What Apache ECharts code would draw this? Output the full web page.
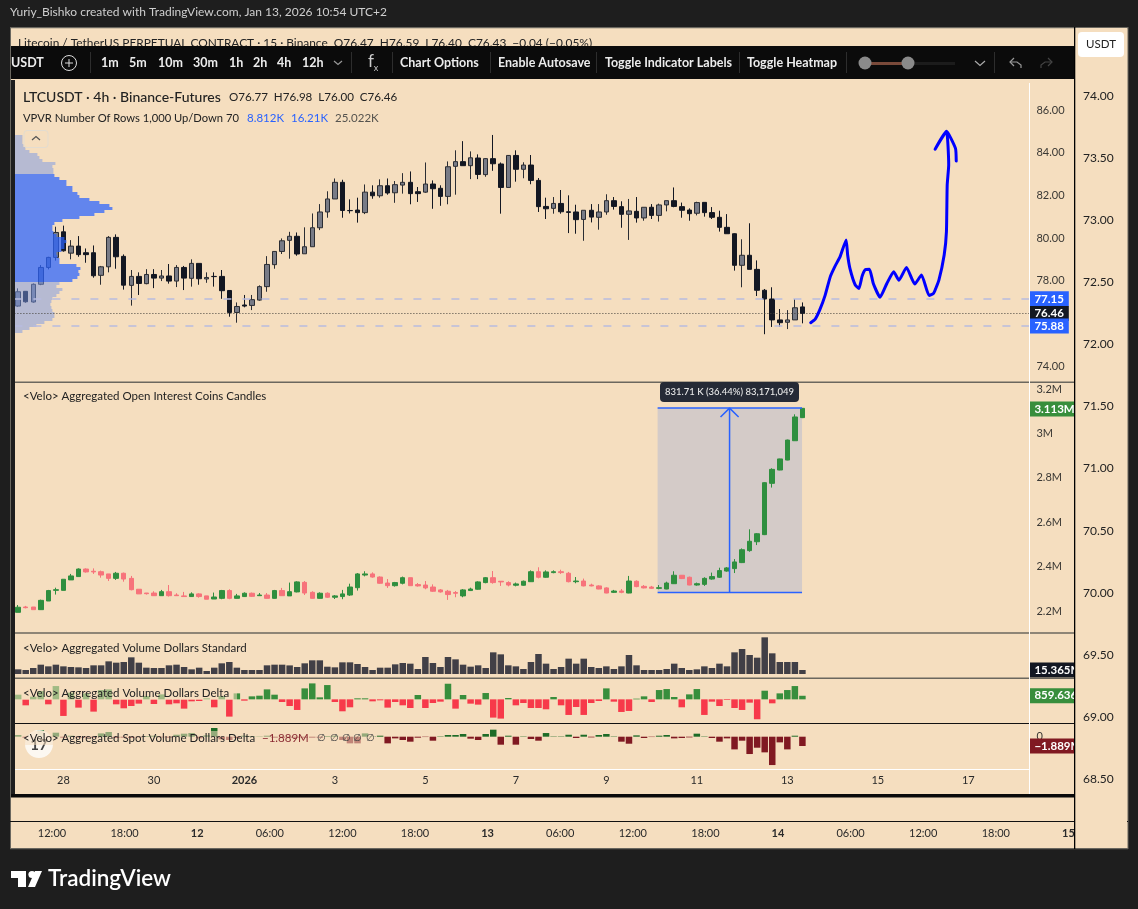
<!DOCTYPE html>
<html>
<head>
<meta charset="utf-8">
<title>LTCUSDT</title>
<script src="https://cdn.jsdelivr.net/npm/echarts@6/dist/echarts.min.js"></script>
<style>
    html, body { margin: 0; padding: 0; background: #1e1e1e; }
    #chart { width: 1138px; height: 909px; }
</style>
</head>
<body>
<div id="chart"></div>
<script>
// [open, close, low, high], 4h bars
const priceCandles = [
    [76.81,77.48,76.78,77.64],[77.50,77.01,76.97,77.50],[77.00,77.83,76.97,77.87],[77.83,78.62,77.79,78.73],[78.62,79.09,78.53,79.12],
    [79.09,80.26,78.94,80.53],[80.29,79.40,79.36,80.58],[79.29,79.62,79.00,79.90],[79.62,79.22,79.12,80.09],[79.31,79.22,78.84,79.51],
    [79.31,78.23,78.14,79.65],[78.25,78.65,77.81,78.69],[78.65,80.03,78.39,80.09],[80.03,79.12,78.56,80.17],[79.14,77.79,77.58,79.23],
    [77.78,78.20,76.83,78.50],[78.20,77.87,77.33,78.39],[77.86,78.29,77.83,78.54],[78.29,78.12,77.65,78.54],[78.12,78.22,77.98,78.50],
    [78.22,77.98,77.86,78.78],[77.98,78.62,77.70,78.73],[78.62,78.12,77.56,78.69],[78.11,78.81,77.72,79.00],[78.81,78.09,77.81,78.81],
    [78.08,78.15,77.90,78.39],[78.20,78.19,77.72,78.39],[78.20,77.53,77.15,78.50],[77.54,76.51,76.31,77.54],[76.51,76.79,76.03,76.98],
    [76.86,76.81,76.75,77.33],[76.84,77.11,76.62,77.33],[77.09,77.72,77.06,77.78],[77.72,78.76,77.48,79.15],[78.75,79.37,78.56,79.37],
    [79.37,79.87,79.25,79.98],[79.89,80.08,79.03,80.29],[80.08,79.25,79.17,80.26],[79.26,79.59,79.26,80.50],[79.59,80.48,79.59,81.15],
    [80.48,81.22,80.37,81.59],[81.22,81.83,80.95,82.19],[81.83,82.61,81.83,82.79],[82.61,81.29,80.95,82.73],[81.29,81.28,81.15,81.81],
    [81.31,81.19,80.72,81.89],[81.19,82.15,81.12,82.51],[82.15,81.98,81.84,82.47],[81.98,82.45,81.89,82.75],[82.45,82.11,82.03,82.79],
    [82.12,82.50,81.65,82.67],[82.48,82.61,82.08,83.04],[82.61,82.08,81.58,83.12],[82.17,82.08,81.69,82.39],[82.15,82.53,82.12,83.54],
    [82.53,82.31,81.37,82.70],[82.33,81.95,81.51,82.47],[81.95,83.34,81.58,83.59],[83.36,83.58,82.03,84.11],[83.58,83.39,83.39,84.54],
    [83.39,83.76,82.76,84.06],[83.75,82.98,82.76,83.92],[82.97,83.72,82.87,83.75],[83.72,83.48,83.15,84.83],[83.47,82.37,81.14,83.54],
    [82.37,83.87,82.37,83.89],[83.87,83.22,82.64,84.11],[83.22,83.42,82.80,83.55],[83.42,82.70,82.52,83.89],[82.70,81.47,81.22,82.81],
    [81.48,81.37,80.89,81.89],[81.39,81.62,81.14,81.92],[81.62,81.23,81.14,82.25],[81.23,81.20,80.23,82.00],[81.22,80.86,80.20,81.56],
    [80.87,81.30,79.87,81.30],[81.30,80.98,80.73,81.59],[80.97,81.22,80.39,81.59],[81.22,81.75,81.09,82.05],[81.75,81.48,81.33,81.92],
    [81.47,81.11,80.48,81.72],[81.11,81.27,79.91,81.83],[81.25,80.94,80.72,81.92],[80.94,81.44,80.81,81.44],[81.44,81.06,80.89,81.59],
    [81.06,81.55,80.77,81.61],[81.55,81.75,81.25,81.75],[81.75,81.48,81.44,82.37],[81.47,81.30,80.95,81.66],[81.31,81.14,80.81,81.39],
    [81.16,81.66,81.06,81.70],[81.67,81.19,81.00,81.67],[81.19,80.97,80.89,81.45],[80.97,80.50,80.30,81.28],[80.50,80.20,80.20,81.12],
    [80.20,78.72,78.47,80.22],[78.72,79.19,77.69,79.94],[79.19,78.53,78.53,80.69],[78.53,77.55,77.28,78.95],[77.55,77.14,75.49,77.61],
    [77.14,76.16,75.83,77.69],[76.16,76.03,75.84,76.67],[76.05,76.16,75.73,76.62],[76.16,76.73,76.16,77.14],[76.77,76.46,76.00,76.98]
];
// aggregated open interest in millions, [open, close, low, high]
const oiCandles = [
    [2.194,2.217,2.194,2.227],[2.218,2.215,2.212,2.223],[2.218,2.206,2.206,2.218],[2.206,2.248,2.205,2.251],[2.245,2.292,2.245,2.295],
    [2.293,2.296,2.274,2.305],[2.293,2.343,2.293,2.343],[2.340,2.358,2.340,2.367],[2.355,2.389,2.355,2.392],[2.389,2.376,2.373,2.392],
    [2.379,2.376,2.367,2.392],[2.377,2.362,2.350,2.382],[2.367,2.347,2.335,2.367],[2.347,2.370,2.340,2.376],[2.370,2.344,2.332,2.373],
    [2.347,2.296,2.293,2.358],[2.298,2.277,2.277,2.298],[2.281,2.278,2.274,2.281],[2.281,2.269,2.268,2.289],[2.269,2.287,2.269,2.295],
    [2.287,2.269,2.265,2.317],[2.272,2.269,2.268,2.280],[2.268,2.265,2.265,2.286],[2.265,2.277,2.263,2.284],[2.277,2.265,2.260,2.280],
    [2.268,2.253,2.253,2.268],[2.254,2.263,2.254,2.283],[2.257,2.292,2.253,2.295],[2.292,2.257,2.253,2.298],[2.257,2.268,2.256,2.277],
    [2.265,2.280,2.263,2.284],[2.280,2.266,2.263,2.283],[2.269,2.272,2.268,2.281],[2.272,2.257,2.256,2.281],[2.257,2.292,2.256,2.295],
    [2.292,2.269,2.268,2.304],[2.268,2.287,2.268,2.328],[2.286,2.331,2.284,2.334],[2.329,2.281,2.272,2.335],[2.284,2.257,2.256,2.289],
    [2.257,2.280,2.256,2.284],[2.280,2.262,2.259,2.284],[2.262,2.268,2.254,2.272],[2.265,2.277,2.253,2.295],[2.272,2.308,2.268,2.323],
    [2.305,2.367,2.292,2.371],[2.362,2.367,2.356,2.379],[2.367,2.353,2.350,2.374],[2.353,2.325,2.323,2.356],[2.326,2.314,2.304,2.344],
    [2.314,2.328,2.310,2.331],[2.325,2.350,2.320,2.355],[2.350,2.314,2.314,2.350],[2.319,2.313,2.310,2.326],[2.317,2.304,2.298,2.335],
    [2.308,2.289,2.286,2.320],[2.295,2.286,2.283,2.299],[2.289,2.274,2.250,2.295],[2.283,2.280,2.262,2.290],[2.268,2.295,2.262,2.299],
    [2.292,2.299,2.290,2.305],[2.298,2.331,2.296,2.334],[2.328,2.350,2.325,2.353],[2.350,2.328,2.323,2.380],[2.334,2.331,2.313,2.335],
    [2.328,2.317,2.311,2.334],[2.316,2.322,2.311,2.328],[2.316,2.334,2.314,2.337],[2.332,2.377,2.331,2.383],[2.377,2.352,2.347,2.397],
    [2.352,2.376,2.350,2.383],[2.373,2.377,2.370,2.383],[2.377,2.373,2.367,2.386],[2.370,2.332,2.329,2.376],[2.332,2.335,2.325,2.353],
    [2.335,2.313,2.311,2.346],[2.317,2.313,2.311,2.323],[2.313,2.299,2.298,2.316],[2.304,2.281,2.280,2.307],[2.284,2.290,2.281,2.295],
    [2.290,2.284,2.280,2.299],[2.281,2.335,2.280,2.358],[2.334,2.310,2.307,2.338],[2.311,2.304,2.302,2.317],[2.308,2.302,2.299,2.313],
    [2.302,2.305,2.298,2.317],[2.299,2.326,2.298,2.332],[2.323,2.361,2.322,2.379],[2.361,2.346,2.344,2.362],[2.352,2.317,2.316,2.355],
    [2.317,2.323,2.314,2.328],[2.320,2.347,2.313,2.352],[2.344,2.355,2.341,2.373],[2.352,2.382,2.349,2.395],[2.380,2.394,2.377,2.398],
    [2.391,2.421,2.371,2.434],[2.418,2.476,2.416,2.482],[2.472,2.514,2.467,2.568],[2.512,2.548,2.497,2.551],[2.544,2.778,2.542,2.780],
    [2.775,2.838,2.756,2.843],[2.835,2.885,2.834,2.886],[2.880,2.970,2.879,2.972],[2.967,3.074,2.966,3.086],[3.071,3.113,3.069,3.114]
];
const volumes = [
    17.9,15.4,23,35.8,29.4,35.8,29.4,26.9,25.6,23,
    33.3,33.3,48.6,43.5,46,64,43.5,24.3,23,23,
    33.3,35.8,26.9,17.9,24.3,11.5,24.3,41,46,24.3,
    15.4,15.4,15.4,33.3,35.8,35.8,33,26.9,41,52.5,
    52.5,28,25.6,44.8,44.8,38.4,26.9,15.4,24.3,24.3,
    37.1,42.2,39.7,19.2,65.3,42.2,26.9,65.3,56.3,35.8,
    28.2,33.3,23,83.2,75.5,33.3,29.4,19.2,46,76.8,
    39.7,19.2,26.9,58.9,39.7,58.9,26.9,23,29.4,19.2,
    29.4,73,33.3,15.4,15.4,15.4,19.2,39.7,23,15.4,
    17.9,29.4,23,39.7,29.4,83.2,96,73,62.7,140.8,
    79.4,46,46,46,15.365
];
const volumeDeltas = [
    1.12,-1.44,0.64,2,-1.2,3.2,-4,1.6,-2,1.44,
    -2.96,2.24,2.4,-1.2,-2.16,-1.6,-1.04,0.8,-1.12,1.2,
    -1.2,-0.96,-2.24,-0.48,-0.4,0.24,-1.92,0.8,-4.16,1.44,
    -0.32,0.72,0.88,2.4,1.12,-0.64,-1.6,-2.56,2.64,3.84,
    0.48,3.44,-0.64,-2.88,-1.92,0.24,0.24,-0.48,-0.24,-2,
    -0.64,-1.44,-2.08,1.04,-2.08,-0.88,-0.56,3.76,-2.24,1.04,
    -1.04,-1.28,1.52,-4.4,-4.64,0.32,-1.44,-0.88,-2.08,-2.08,
    -2.4,0.56,-1.44,-3.76,-1.84,-3.76,-0.88,-0.4,2.64,-0.56,
    -3.04,-2.8,0.16,0.72,-0.64,2.24,2.48,0.56,-1.92,1.2,
    2.48,-3.76,-0.56,-1.6,-0.16,-2.08,-2.56,-0.8,-4.8,2.08,
    -0.96,1.44,2.24,3.2,0.86
];
const spotDeltas = [
    0.34,-0.2,-0.4,1.35,-0.27,0.81,-0.2,0.2,-0.2,-0.2,
    -0.2,0.67,0.95,-0.27,-0.2,-0.27,-0.14,0.14,0.2,-0.14,
    -0.2,0.4,0.61,0.74,-0.34,0.27,1.76,-0.54,-0.67,-0.27,
    0.2,0.14,0.07,0.2,-0.2,-0.2,-0.2,-0.2,-0.2,-0.2,
    -0.2,0.14,0.2,-0.67,-1.35,-1.35,0.67,0.07,0.2,-1.35,
    -0.34,-0.67,-1.01,-0.2,-0.07,-0.81,0.07,0.34,0.34,0.54,
    -0.4,-0.67,0.54,1.42,-1.62,0.2,-1.62,0.07,-0.47,-0.81,
    0.74,0.07,0.07,0.4,-0.27,0.4,-0.14,0.34,0.54,0.07,
    -1.01,-1.42,0.27,-0.27,-0.07,0.2,0.34,-0.34,-0.27,-0.14,
    0.61,0.07,-0.27,-1.01,-0.34,-2.57,-0.81,-3.51,-2.23,-3.17,
    -5.74,-1.15,-2.57,0.2,-1.889
];
// volume profile rows, top of the range first
const profileVol = [
    8,8,8,9,11,15,23,25,28,41,38,39,39,
    40,45,52,52,58,58,63,65,75,85,95,98,90,80,65,48,40,38,38,39,42,50,52,50,50,47,42,43,45,45,62,66,64,65,63,58,
    45,42,48,45,42,38,37,36,37,38,40,40,38,30,22,15,8
];
// the hand drawn forecast, [bar position, price]
const forecastPath = [
    [105.6,76.03],[106.2,76.2],[106.8,76.63],[107.5,77.3],[108.2,78.19],[108.8,78.66],[109.5,79.13],[110.3,79.91],
    [110.5,79.2],[110.8,78.58],[111.5,77.8],[112,77.63],[112.4,78.19],[112.8,78.5],[113.4,78.53],[113.9,77.87],
    [114.8,77.22],[115.7,77.87],[116.6,78.42],[117.3,78.02],[118.3,78.62],[119.4,77.84],[120.3,78.27],[121.3,77.3],
    [121.9,77.41],[122.6,78.03],[123.3,79.2],[123.6,80.3],[123.7,82.48],[123.9,83.42],[123.6,85],[122.1,84.16],
    [123.6,85],[124.8,84.2],[124.9,83.61]
];
const measureBottom = [[85.3,2.283],[104.45,2.283]];
const measureTop = [[85.3,3.114],[104.45,3.114]];
const measureShaft = [[94.84,2.283],[94.84,3.114]];
const measureHead = [[93.64,3.074],[94.84,3.114],[96.04,3.074]];
const levelHigh = 77.15, levelLast = 76.46, levelLow = 75.88;

const dateTicks = {6:'28',18:'30',30:'2026',42:'3',54:'5',66:'7',78:'9',90:'11',102:'13',114:'15',126:'17'};
const outerTimeLabels = ['12:00','18:00','12','06:00','12:00','18:00','13','06:00','12:00','18:00','14','06:00','12:00','18:00','15'];
const toolbarItems = [
    ['USDT',11],['1m',101],['5m',129],['10m',158],['30m',193],['1h',229],['2h',253],['4h',277],['12h',302],
    ['Chart Options',400],['Enable Autosave',498],['Toggle Indicator Labels',605],['Toggle Heatmap',747]
];
const toolbarSeps = [90,351,392,490,596,739,846,994];

const BAR_COUNT = 135;
const barLabels = [];
for (let i = 0; i < BAR_COUNT; i++) barLabels.push(dateTicks[i] || '');

const CREAM = '#f5debf', DARK = '#1e1e1e', FONT = 'Lato, "Noto Sans", sans-serif';
const G_LEFT = 14.4, G_WIDTH = 1018;

// graphic helpers, only for the page chrome
const els = [];
function rect(x, y, w, h, fill, z, r) {
    els.push({type:'rect', shape:{x:x, y:y, width:w, height:h, r:r||0}, style:{fill:fill}, z:z, silent:true});
}
function txt(x, y, text, size, fill, z, weight, align) {
    els.push({type:'text', style:{x:x, y:y, text:text, fill:fill, textAlign:align||'left', textVerticalAlign:'middle',
        font:(weight||'normal')+' '+size+'px '+FONT}, z:z, silent:true});
}
function stroke(points, color, z, width) {
    els.push({type:'polyline', shape:{points:points}, style:{fill:'none', stroke:color, lineWidth:width||1.2}, z:z, silent:true});
}
// backgrounds
rect(10, 27, 1118, 822, CREAM, -10);
rect(10, 27, 1118, 1.2, '#6a675f', 120);
rect(10, 848, 1118, 1.2, '#6a675f', 120);
rect(10, 27, 1, 822, '#6a675f', 120);
rect(1127.5, 27, 1, 822, '#6a675f', 120);
rect(10, 80, 5, 714, DARK, 90);
// clip anything running past the chart into the outer axis
rect(1075, 28, 52, 820, CREAM, 150);
rect(1074, 27, 1.3, 822, '#000', 151);
rect(10, 794, 1065, 3.5, '#0a0a0a', 90);
rect(10, 821, 1118, 1, '#111', 120);
// pane rules
rect(15, 381.5, 1060, 1.4, '#6b675e', 60);
rect(15, 632.3, 1060, 1.4, '#6b675e', 60);
rect(15, 677.6, 1060, 1.4, '#6b675e', 60);
rect(15, 723, 1060, 1, '#111', 60);
rect(15, 769, 1014, 1, '#fff', 60);
rect(1029, 83, 1, 711, '#fff', 60);
// title strip and toolbar
txt(18, 43, 'Litecoin / TetherUS PERPETUAL CONTRACT \u00b7 15 \u00b7 Binance  O76.47  H76.59  L76.40  C76.43  \u22120.04 (\u22120.05%)', 11.9, '#222', 80);
rect(10, 46, 1065, 33, '#0b0b0b', 100);
toolbarItems.forEach(function (t) { txt(t[1], 63, t[0], 12.5, '#ececec', 101, '700'); });
toolbarSeps.forEach(function (x) { rect(x, 52, 1, 21, '#2d2d2d', 101); });
els.push({type:'circle', shape:{cx:69, cy:63, r:7.5}, style:{fill:'none', stroke:'#ddd', lineWidth:1}, z:101, silent:true});
stroke([[65,63],[73,63]], '#ddd', 101, 1);
stroke([[69,59],[69,67]], '#ddd', 101, 1);
stroke([[334,61],[338,64.5],[342,61]], '#999', 101);
txt(371, 62, 'f', 17, '#ccc', 101, 'normal', 'center');
txt(376, 68, 'x', 9, '#ccc', 101, 'normal', 'center');
rect(865, 62, 90, 3, '#1c1c1c', 101);
rect(865, 62, 43, 3, '#7a4a3a', 101);
els.push({type:'circle', shape:{cx:865, cy:63, r:6.5}, style:{fill:'#8a8a8a'}, z:102, silent:true});
els.push({type:'circle', shape:{cx:908, cy:63, r:6.5}, style:{fill:'#8a8a8a'}, z:102, silent:true});
stroke([[975,61],[980,65.5],[985,61]], '#aaa', 101);
stroke([[1014,58],[1010,62],[1014,66]], '#999', 101);
stroke([[1010,62],[1017,62],[1021,65],[1021,68]], '#999', 101);
stroke([[1048,58],[1052,62],[1048,66]], '#444', 101);
stroke([[1052,62],[1045,62],[1041,65],[1041,68]], '#444', 101);
// outer axis button
rect(1078, 32, 46, 25, '#fff', 160, 4);
txt(1101, 44.5, 'USDT', 11.5, '#222', 161, 'normal', 'center');
// legends
txt(23, 97, 'LTCUSDT \u00b7 4h \u00b7 Binance-Futures', 14, '#222', 70, '500');
txt(229, 97, 'O76.77  H76.98  L76.00  C76.46', 11.6, '#222', 70);
txt(23, 118, 'VPVR Number Of Rows 1,000 Up/Down 70', 11.2, '#222', 70);
txt(247, 118, '8.812K', 11.5, '#2962ff', 70);
txt(291, 118, '16.21K', 11.5, '#2962ff', 70);
txt(335, 118, '25.022K', 11.5, '#55534e', 70);
els.push({type:'rect', shape:{x:24, y:130.5, width:24, height:17, r:3}, style:{fill:CREAM, stroke:'#e3dcd0', lineWidth:1}, z:70, silent:true});
stroke([[32,140],[36,136.5],[40,140]], '#555', 71);
txt(23, 396, '<Velo> Aggregated Open Interest Coins Candles', 11.5, '#222', 70);
txt(23, 648, '<Velo> Aggregated Volume Dollars Standard', 11.5, '#222', 70);
rect(15, 686, 222, 14, 'rgba(245,222,191,0.55)', 69);
txt(23, 693, '<Velo> Aggregated Volume Dollars Delta', 11.5, '#222', 70);
rect(15, 731, 360, 14, 'rgba(245,222,191,0.55)', 69);
// faded watermark badge behind the last legend
els.push({type:'circle', shape:{cx:39, cy:744, r:14}, style:{fill:'#fdfbf6', opacity:0.9}, z:68, silent:true});
txt(39, 745, '17', 15, '#444', 68, 'bold', 'center');
txt(23, 738, '<Velo> Aggregated Spot Volume Dollars Delta', 11.5, '#222', 70);
txt(262, 738, '\u22121.889M', 11.5, '#8a2a32', 70);
[317,330,342,353,366].forEach(function (x) { txt(x, 738, '\u2205', 10, '#444', 70); });
// measure tooltip
rect(660, 382, 139, 20, '#252a36', 70, 4);
txt(729.5, 392, '831.71 K (36.44%) 83,171,049', 9.5, '#e8e8e8', 71, '500', 'center');
// footer logo
rect(11, 871, 15, 7, '#fff', 5);
rect(18, 871, 8, 16, '#fff', 5);
els.push({type:'circle', shape:{cx:32, cy:874.5, r:3.6}, style:{fill:'#fff'}, z:5, silent:true});
els.push({type:'polygon', shape:{points:[[28,887],[35,871],[42,871],[35,887]]}, style:{fill:'#fff'}, z:5, silent:true});
txt(48, 879, 'TradingView', 22.5, '#fff', 5, '600');
txt(10, 12, 'Yuriy_Bishko created with TradingView.com, Jan 13, 2026 10:54 UTC+2', 12, '#cfcfcf', 5);

function tagLine(value, bg, text, line, width) {
    return {
        yAxis: value,
        lineStyle: line || {color:'rgba(0,0,0,0)'},
        label: {show:true, position:'end', distance:-3, formatter:text, backgroundColor:bg, color:'#fff', width:width,
            padding:[2,5], fontSize:11.5, fontFamily:FONT, fontWeight:700, lineHeight:11}
    };
}
function signedBars(values, up, down) {
    return values.map(function (v) { return {value:v, itemStyle:{color: v >= 0 ? up : down}}; });
}
function hiddenX(grid) {
    return {type:'category', gridIndex:grid, data:barLabels, show:false};
}
const valueLabel = {color:'#3a3834', fontSize:11, fontFamily:FONT, margin:5};

const grids = [
    {left:G_LEFT, width:G_WIDTH, top:110, height:256},  // price
    {left:G_LEFT, width:G_WIDTH, top:110, height:256},  // drawing on price
    {left:G_LEFT, width:G_WIDTH, top:135, height:198},  // profile
    {left:G_LEFT, width:G_WIDTH, top:389, height:222},  // open interest
    {left:G_LEFT, width:G_WIDTH, top:389, height:222},  // measure tool
    {left:G_LEFT, width:G_WIDTH, top:634, height:40},   // volume
    {left:G_LEFT, width:G_WIDTH, top:679, height:44},   // delta
    {left:G_LEFT, width:G_WIDTH, top:724, height:45},   // spot delta
    {left:10, width:1065, top:96, height:683},          // outer price axis
    {left:15.7, width:1089, top:700, height:121}        // outer time axis
];

const option = {
    backgroundColor: DARK,
    animation: false,
    graphic: {elements: els},
    grid: grids,
    xAxis: [
        hiddenX(0),
        {type:'value', gridIndex:1, min:0, max:BAR_COUNT, show:false},
        {type:'value', gridIndex:2, min:0, max:G_WIDTH, show:false},
        hiddenX(3),
        {type:'value', gridIndex:4, min:0, max:BAR_COUNT, show:false},
        hiddenX(5),
        hiddenX(6),
        {
            type:'category', gridIndex:7, data:barLabels, axisLine:{show:false}, axisTick:{show:false},
            axisLabel:{
                color:'#2a2a2a', fontSize:11, fontFamily:FONT, margin:6,
                interval:function (i, v) { return v !== ''; },
                formatter:function (v) { return v === '2026' ? '{b|2026}' : v; },
                rich:{b:{fontWeight:'bold', fontSize:11, color:'#2a2a2a', fontFamily:FONT}}
            }
        },
        {type:'category', gridIndex:8, data:['a'], show:false},
        {
            type:'category', gridIndex:9, data:outerTimeLabels, axisLine:{show:false}, axisTick:{show:false},
            axisLabel:{
                color:'#2a2a2a', fontSize:11, fontFamily:FONT, margin:7, interval:0,
                formatter:function (v) { return v.indexOf(':') < 0 ? '{b|' + v + '}' : v; },
                rich:{b:{fontWeight:'bold', fontSize:11, color:'#2a2a2a', fontFamily:FONT}}
            }
        }
    ],
    yAxis: [
        {type:'value', gridIndex:0, position:'right', min:74, max:86, interval:2, splitLine:{show:false}, axisLine:{show:false}, axisTick:{show:false},
            axisLabel:Object.assign({}, valueLabel, {margin:4, formatter:function (v) { return v.toFixed(2); }})},
        {type:'value', gridIndex:1, min:74, max:86, show:false},
        {type:'category', gridIndex:2, inverse:true, data:profileVol.map(function (v, i) { return i; }), show:false},
        {type:'value', gridIndex:3, position:'right', min:2.2, max:3.2, interval:0.2, splitLine:{show:false}, axisLine:{show:false}, axisTick:{show:false},
            axisLabel:Object.assign({}, valueLabel, {margin:4, formatter:function (v) { return +v.toFixed(1) + 'M'; }})},
        {type:'value', gridIndex:4, min:2.2, max:3.2, show:false},
        {type:'value', gridIndex:5, min:0, max:153.6, show:false},
        {type:'value', gridIndex:6, min:-5.7, max:4.9, show:false},
        {type:'value', gridIndex:7, position:'right', min:-6.54, max:2.57, splitLine:{show:false}, axisLine:{show:false}, axisTick:{show:false},
            axisLabel:Object.assign({}, valueLabel, {margin:4, customValues:[0]})},
        {type:'value', gridIndex:8, position:'right', min:68.5, max:74, interval:0.5, z:200, splitLine:{show:false}, axisLine:{show:false}, axisTick:{show:false},
            axisLabel:{color:'#222', fontSize:12, fontFamily:FONT, margin:8, formatter:function (v) { return v.toFixed(2); }}},
        {type:'value', gridIndex:9, show:false, min:0, max:1}
    ],
    series: [
        {
            type:'candlestick', xAxisIndex:0, yAxisIndex:0, data:priceCandles, barWidth:5,
            itemStyle:{color:'#787b86', color0:'#131722', borderColor:'#2b2d33', borderColor0:'#131722', borderWidth:1},
            markLine:{
                silent:true, symbol:'none',
                data:[
                    tagLine(levelHigh, '#2962ff', '77.15', {color:'#b8bcdf', type:[8,11], width:1.5}),
                    tagLine(levelLast, '#131722', '76.46', {color:'#45423c', type:[1,2], width:1}),
                    tagLine(levelLow, '#2962ff', '75.88', {color:'#b8bcdf', type:[8,11], width:1.5})
                ]
            }
        },
        {
            type:'bar', xAxisIndex:2, yAxisIndex:2, z:3, barCategoryGap:0, barWidth:'100%',
            data:profileVol.map(function (v, i) {
                const inArea = i >= 13 && i < 49;
                return {value:v, itemStyle:{color: inArea ? 'rgba(41,98,255,0.72)' : 'rgba(120,150,230,0.5)'}};
            })
        },
        {
            type:'line', xAxisIndex:1, yAxisIndex:1, z:5, data:forecastPath, symbol:'none', smooth:0.15,
            lineStyle:{color:'#0000ff', width:3, cap:'round', join:'round'}
        },
        {
            type:'candlestick', xAxisIndex:3, yAxisIndex:3, data:oiCandles, barWidth:5,
            itemStyle:{color:'#2f8f3f', color0:'#f7737b', borderColor:'#2f8f3f', borderColor0:'#f7737b', borderWidth:1},
            markLine:{silent:true, symbol:'none', data:[tagLine(3.113, '#388e3c', '3.113M', null, 46)]}
        },
        {
            type:'line', xAxisIndex:4, yAxisIndex:4, z:3, data:measureBottom, symbol:'none',
            lineStyle:{color:'#2962ff', width:1.5},
            markArea:{silent:true, itemStyle:{color:'rgba(135,159,221,0.3)'},
                data:[[{coord:measureTop[0]}, {coord:measureBottom[1]}]]}
        },
        {type:'line', xAxisIndex:4, yAxisIndex:4, z:3, data:measureTop, symbol:'none', lineStyle:{color:'#2962ff', width:1.5}},
        {type:'line', xAxisIndex:4, yAxisIndex:4, z:3, data:measureShaft, symbol:'none', lineStyle:{color:'#2962ff', width:1.5}},
        {type:'line', xAxisIndex:4, yAxisIndex:4, z:3, data:measureHead, symbol:'none', lineStyle:{color:'#2962ff', width:1.5}},
        {
            type:'bar', xAxisIndex:5, yAxisIndex:5, data:volumes, barWidth:6.5,
            itemStyle:{color:'#413f46'},
            markLine:{silent:true, symbol:'none', data:[tagLine(15.365, '#131722', '15.365M', null, 46)]}
        },
        {
            type:'bar', xAxisIndex:6, yAxisIndex:6, data:signedBars(volumeDeltas, '#388e3c', '#f7394a'), barWidth:6.5,
            markLine:{silent:true, symbol:'none', data:[tagLine(0.86, '#388e3c', '859.636K', null, 46)]}
        },
        {
            type:'bar', xAxisIndex:7, yAxisIndex:7, data:signedBars(spotDeltas, '#1d6b27', '#801922'), barWidth:6.5,
            markLine:{silent:true, symbol:'none', data:[tagLine(-1.889, '#801922', '\u22121.889M', null, 46)]}
        }
    ]
};

const chart = echarts.init(document.getElementById('chart'));
chart.setOption(option);
</script>
</body>
</html>
